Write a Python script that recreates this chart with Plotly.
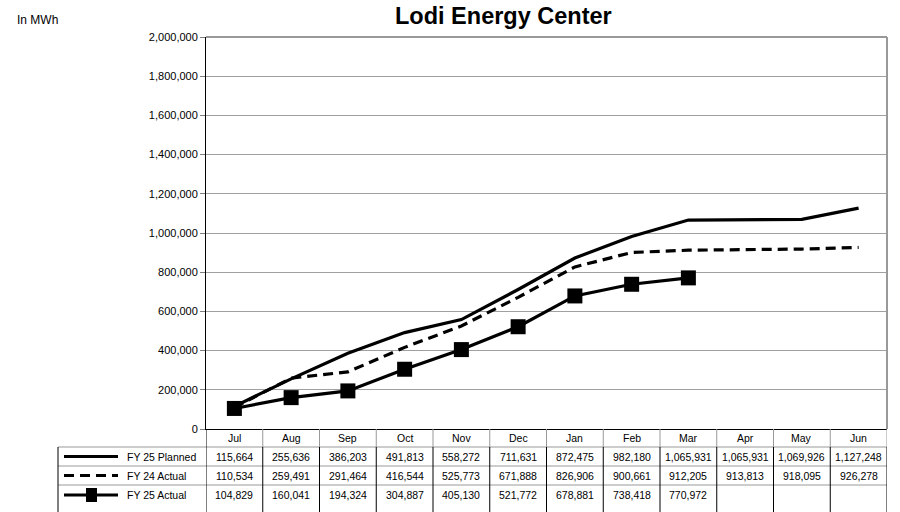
import plotly.graph_objects as go

months = ["Jul", "Aug", "Sep", "Oct", "Nov", "Dec", "Jan", "Feb", "Mar", "Apr", "May", "Jun"]
fy25_planned = [115664, 255636, 386203, 491813, 558272, 711631, 872475, 982180, 1065931, 1065931, 1069926, 1127248]
fy24_actual = [110534, 259491, 291464, 416544, 525773, 671888, 826906, 900661, 912205, 913813, 918095, 926278]
fy25_actual = [104829, 160041, 194324, 304887, 405130, 521772, 678881, 738418, 770972]
series_names = ["FY 25 Planned", "FY 24 Actual", "FY 25 Actual"]
y_ticks = list(range(0, 2000001, 200000))

W, H = 900, 512
L, R, T, B = 206, 887, 37, 429
PW, PH = R - L, B - T
FONT = "Liberation Sans, Arial, sans-serif"
TFONT = dict(family=FONT, size=10.5, color="black")
DASH = "10px,6px"


def px_x(px):
    return (px - L) / PW


def px_y(py):
    return (B - py) / PH


fig = go.Figure()
fig.add_trace(go.Scatter(x=months, y=fy25_planned, mode="lines", name=series_names[0],
                         line=dict(color="black", width=3.2)))
fig.add_trace(go.Scatter(x=months, y=fy24_actual, mode="lines", name=series_names[1],
                         line=dict(color="black", width=3.2, dash=DASH)))
fig.add_trace(go.Scatter(x=months[:len(fy25_actual)], y=fy25_actual, mode="lines+markers",
                         name=series_names[2], line=dict(color="black", width=3.2),
                         marker=dict(symbol="square", size=15, color="black")))

shapes = []
annotations = []

# plot area border top/right (gray)
shapes.append(dict(type="line", xref="paper", yref="paper", x0=0, x1=1, y0=1, y1=1,
                   line=dict(color="#999999", width=2)))
shapes.append(dict(type="line", xref="paper", yref="paper", x0=1, x1=1, y0=0, y1=1,
                   line=dict(color="#999999", width=2)))

# data table
row_tops = [429, 447, 466, 485, 512]
table_left = 58
for yy in row_tops[1:4]:
    shapes.append(dict(type="line", xref="paper", yref="paper",
                       x0=px_x(table_left), x1=1, y0=px_y(yy), y1=px_y(yy),
                       line=dict(color="#999999", width=1)))
for i in range(len(months) + 1):
    xv = i - 0.5
    shapes.append(dict(type="line", xref="x", yref="paper", x0=xv, x1=xv,
                       y0=px_y(row_tops[0]), y1=px_y(row_tops[1]),
                       line=dict(color="black" if i == 0 else "#999999", width=1)))
    shapes.append(dict(type="line", xref="x", yref="paper", x0=xv, x1=xv,
                       y0=px_y(row_tops[1]), y1=px_y(row_tops[4]),
                       line=dict(color="black", width=1)))
shapes.append(dict(type="line", xref="paper", yref="paper", x0=px_x(table_left), x1=px_x(table_left),
                   y0=px_y(row_tops[1]), y1=px_y(row_tops[4]),
                   line=dict(color="black", width=1)))

for m in months:
    annotations.append(dict(x=m, xref="x", y=px_y((row_tops[0] + row_tops[1]) / 2), yref="paper",
                            text=m, showarrow=False, xanchor="center", yanchor="middle", font=TFONT))

rows = [fy25_planned, fy24_actual, fy25_actual]
for r, vals in enumerate(rows):
    yc = (row_tops[r + 1] + row_tops[r + 2]) / 2 if r < 2 else (row_tops[3] + 505) / 2
    for m, v in zip(months, vals):
        annotations.append(dict(x=m, xref="x", y=px_y(yc), yref="paper", text=f"{v:,}",
                                showarrow=False, xanchor="center", yanchor="middle", font=TFONT))
    annotations.append(dict(x=px_x(125), xref="paper", y=px_y(yc), yref="paper",
                            text=series_names[r], showarrow=False, xanchor="left", yanchor="middle",
                            font=TFONT))
    shapes.append(dict(type="line", xref="paper", yref="paper", x0=px_x(64), x1=px_x(118),
                       y0=px_y(yc), y1=px_y(yc),
                       line=dict(color="black", width=3, dash=DASH if r == 1 else "solid")))
    if r == 2:
        shapes.append(dict(type="rect", xref="paper", yref="paper", x0=px_x(86), x1=px_x(97),
                           y0=px_y(yc - 7), y1=px_y(yc + 7), fillcolor="black",
                           line=dict(color="black", width=0)))

annotations.append(dict(x=px_x(503), xref="paper", y=px_y(16), yref="paper",
                        text="<b>Lodi Energy Center</b>", showarrow=False,
                        xanchor="center", yanchor="middle",
                        font=dict(family=FONT, size=23.5, color="black")))
annotations.append(dict(x=px_x(15), xref="paper", y=px_y(20), yref="paper", text="In MWh",
                        showarrow=False, xanchor="left", yanchor="middle",
                        font=dict(family=FONT, size=12, color="black")))

fig.update_layout(
    width=W, height=H,
    margin=dict(l=L, r=W - R, t=T, b=H - B, pad=0),
    paper_bgcolor="white", plot_bgcolor="white",
    showlegend=False,
    shapes=shapes, annotations=annotations,
    xaxis=dict(type="category", range=[-0.5, len(months) - 0.5], showticklabels=False,
               showgrid=False, zeroline=False, showline=True, linecolor="black", linewidth=1,
               ticks=""),
    yaxis=dict(range=[0, 2000000], tickvals=y_ticks, tickformat=",", showgrid=True,
               gridcolor="#a0a0a0", gridwidth=1, zeroline=False, showline=True,
               linecolor="black", linewidth=1, ticks="outside", ticklen=5, tickcolor="#808080",
               tickfont=dict(family=FONT, size=11, color="black")),
)

fig.write_html("out.html", config={"displayModeBar": False},
               post_script="document.body.style.margin='0';document.body.style.overflow='hidden';")
